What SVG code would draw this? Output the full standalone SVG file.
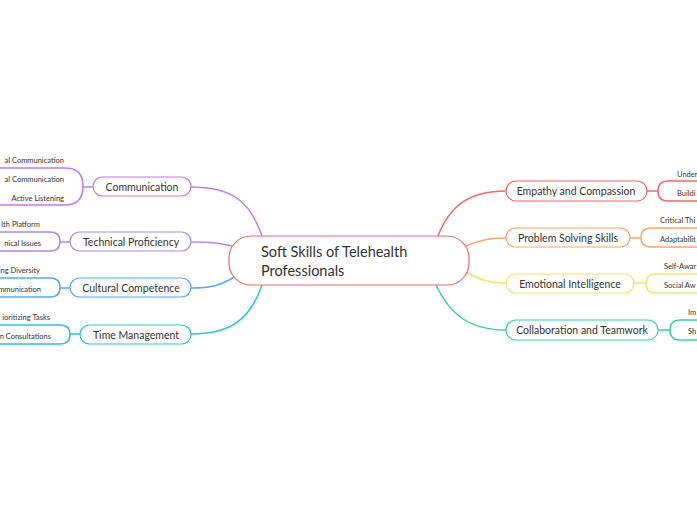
<svg xmlns="http://www.w3.org/2000/svg" width="697" height="520" viewBox="0 0 697 520">
<style>
text{font-family:Lato,"Noto Sans",sans-serif;fill:#333}
.n{font-size:10.5px;text-anchor:middle}
.s{font-size:7.5px}
.b{fill:#fff;stroke-width:1.2}
.c{fill:none;stroke-width:1.5}
</style>
<rect width="697" height="520" fill="#fff"/>
<g id="connectors">
<path class="c" stroke="#c47ae8" d="M262 236 C250 200 230 187 191 187"/>
<path class="c" stroke="#a58cf0" d="M232 246 C215 242 205 242 191 242"/>
<path class="c" stroke="#5aa8f0" d="M236 276 C220 286 210 288 191 288"/>
<path class="c" stroke="#2ec4d0" d="M262 285 C250 320 230 334 191 334"/>
<path class="c" stroke="#f06a6a" d="M438 236 C450 205 470 191 506 191"/>
<path class="c" stroke="#f9a66c" d="M466 246 C480 240 490 238 506 238"/>
<path class="c" stroke="#f5e26b" d="M466 272 C480 280 490 283 506 283"/>
<path class="c" stroke="#3dd1a0" d="M436 285 C450 315 470 330 506 330"/>
<path class="c" stroke="#c47ae8" d="M83 187 H93"/>
<path class="c" stroke="#a58cf0" d="M60 242 H70"/>
<path class="c" stroke="#5aa8f0" d="M60 288 H70"/>
<path class="c" stroke="#2ec4d0" d="M70 334 H80"/>
<path class="c" stroke="#f06a6a" d="M647 191 H658"/>
<path class="c" stroke="#f9a66c" d="M630 238 H641"/>
<path class="c" stroke="#f5e26b" d="M634 283 H646"/>
<path class="c" stroke="#3dd1a0" d="M658 330 H670"/>
</g>
<g id="center"><rect x="229" y="236" width="240" height="49" rx="22" class="b" stroke="#f06a6a" stroke-width="2"/>
<text x="261" y="257" style="font-size:14.5px">Soft Skills of Telehealth</text><text x="261" y="276" style="font-size:14.5px">Professionals</text></g>
<g id="communication"><rect x="93" y="177" width="98" height="19" rx="9.5" class="b" stroke="#c47ae8"/><text class="n" x="142" y="190.5">Communication</text>
<path class="c" stroke="#c47ae8" stroke-width="1.2" d="M-5 168 H65 Q83 168 83 186 Q83 205 65 205 H-5"/>
<text class="s" x="64" y="163" text-anchor="end">al Communication</text>
<text class="s" x="64" y="182" text-anchor="end">al Communication</text>
<text class="s" x="64" y="201" text-anchor="end">Active Listening</text></g>
<g id="technical"><rect x="70" y="232" width="121" height="19" rx="9.5" class="b" stroke="#a58cf0"/><text class="n" x="131" y="245.5">Technical Proficiency</text>
<path class="c" stroke="#a58cf0" stroke-width="1.2" d="M-5 232 H50 Q60 232 60 241.5 Q60 251 50 251 H-5"/>
<text class="s" x="40" y="227" text-anchor="end">lth Platform</text>
<text class="s" x="41" y="246" text-anchor="end">nical Issues</text></g>
<g id="cultural"><rect x="70" y="278" width="121" height="19" rx="9.5" class="b" stroke="#5aa8f0"/><text class="n" x="131" y="291.5">Cultural Competence</text>
<path class="c" stroke="#5aa8f0" stroke-width="1.2" d="M-5 278 H50 Q60 278 60 287.5 Q60 297 50 297 H-5"/>
<text class="s" x="40" y="273" text-anchor="end">ing Diversity</text>
<text class="s" x="41" y="292" text-anchor="end">mmunication</text></g>
<g id="time"><rect x="80" y="325" width="111" height="19" rx="9.5" class="b" stroke="#2ec4d0"/><text class="n" x="136" y="338.5">Time Management</text>
<path class="c" stroke="#2ec4d0" stroke-width="1.2" d="M-5 325 H60 Q70 325 70 334.5 Q70 344 60 344 H-5"/>
<text class="s" x="50" y="320" text-anchor="end">ioritizing Tasks</text>
<text class="s" x="51" y="339" text-anchor="end">n Consultations</text></g>
<g id="empathy"><rect x="506" y="181" width="141" height="20" rx="10" class="b" stroke="#f06a6a"/><text class="n" x="576" y="194.5">Empathy and Compassion</text>
<path class="c" stroke="#f06a6a" stroke-width="1.2" d="M702 181 H668 Q658 181 658 191 Q658 201 668 201 H702"/>
<text class="s" x="677" y="177">Under</text><text class="s" x="677" y="196">Buildi</text></g>
<g id="problem"><rect x="506" y="228" width="124" height="19" rx="9.5" class="b" stroke="#f9a66c"/><text class="n" x="568" y="241.5">Problem Solving Skills</text>
<path class="c" stroke="#f9a66c" stroke-width="1.2" d="M702 228 H651 Q641 228 641 237.5 Q641 247 651 247 H702"/>
<text class="s" x="660" y="223">Critical Thi</text><text class="s" x="660" y="242">Adaptabilit</text></g>
<g id="emotional"><rect x="506" y="274" width="128" height="19" rx="9.5" class="b" stroke="#f5e26b"/><text class="n" x="570" y="287.5">Emotional Intelligence</text>
<path class="c" stroke="#f5e26b" stroke-width="1.2" d="M702 274 H656 Q646 274 646 283.5 Q646 293 656 293 H702"/>
<text class="s" x="664" y="269">Self-Awar</text><text class="s" x="664" y="288">Social Aw</text></g>
<g id="collaboration"><rect x="506" y="320" width="152" height="20" rx="10" class="b" stroke="#3dd1a0"/><text class="n" x="582" y="333.5">Collaboration and Teamwork</text>
<path class="c" stroke="#3dd1a0" stroke-width="1.2" d="M702 320 H680 Q670 320 670 330 Q670 340 680 340 H702"/>
<text class="s" x="688" y="315">Im</text><text class="s" x="688" y="334">Sh</text></g>
</svg>
